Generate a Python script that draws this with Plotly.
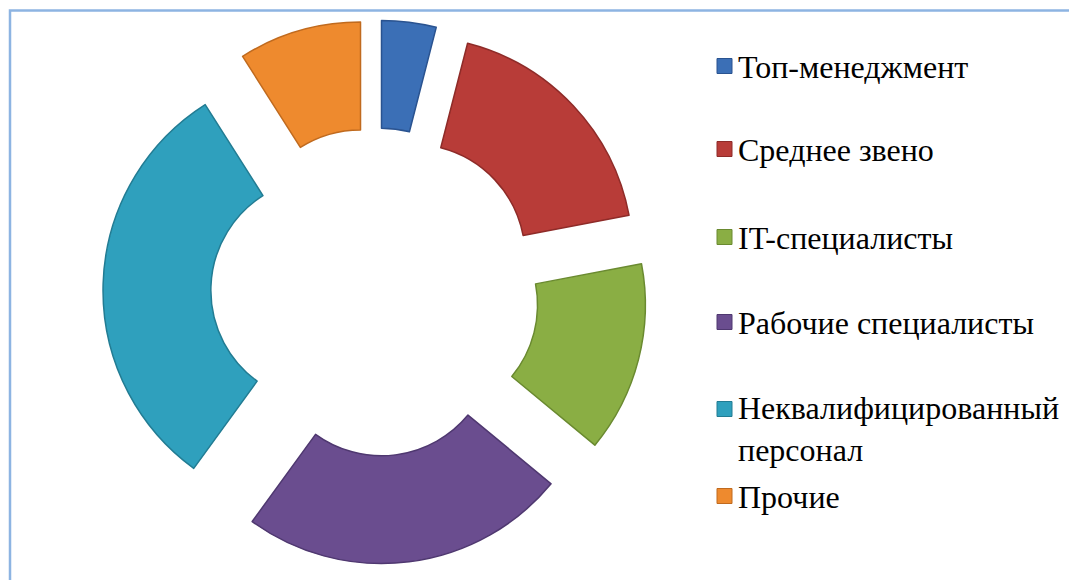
import plotly.graph_objects as go

labels = ["Топ-менеджмент", "Среднее звено", "IT-специалисты",
          "Рабочие специалисты", "Неквалифицированный персонал", "Прочие"]
legend_text = ["Топ-менеджмент", "Среднее звено", "IT-специалисты",
               "Рабочие специалисты", "Неквалифицированный<br>персонал", "Прочие"]
values = [4, 18, 14, 24, 31, 9]
colors = ["#3B6FB6", "#B83C38", "#8AAE44", "#6A4D8F", "#2FA0BD", "#EE8A2E"]
edge_colors = ["#2A5390", "#8E2B28", "#6A8A30", "#4F3870", "#227C93", "#C06A1E"]

W, H = 1077, 580
OFF = 8  # page body margin


def px(x):
    return (x - OFF) / W


def py(y):
    return 1 - (y - OFF) / H


fig = go.Figure(go.Pie(
    labels=labels,
    values=values,
    sort=False,
    direction="clockwise",
    rotation=0,
    hole=0.51,
    pull=[0.236] * len(values),
    marker=dict(colors=colors, line=dict(color=edge_colors, width=1.5)),
    textinfo="none",
    hoverinfo="label+percent",
    showlegend=False,
    domain=dict(x=[px(103), px(647)], y=[py(564), py(20)]),
))

# Legend drawn as text + square markers
centers = [66, 149, 237, 322, 428, 496]
shapes = []
annotations = []
for i, (txt, col, ec) in enumerate(zip(legend_text, colors, edge_colors)):
    cy = centers[i] if i != 4 else 409
    shapes.append(dict(type="rect", xref="paper", yref="paper",
                       x0=px(717), x1=px(732),
                       y0=py(cy + 7.5), y1=py(cy - 7.5),
                       fillcolor=col, line=dict(color=ec, width=1)))
    annotations.append(dict(xref="paper", yref="paper", x=px(736),
                            y=py(centers[i] + 1), xanchor="left", yanchor="middle",
                            text=txt, showarrow=False, align="left",
                            font=dict(family="Liberation Serif", size=32, color="black")))

# chart frame
shapes.append(dict(type="rect", xref="paper", yref="paper",
                   x0=px(10), x1=1.05, y0=-0.05, y1=py(10.5),
                   line=dict(color="#8DB4E2", width=2.5), fillcolor="rgba(0,0,0,0)"))

fig.update_layout(
    width=W, height=H,
    margin=dict(l=0, r=0, t=0, b=0),
    paper_bgcolor="white",
    plot_bgcolor="white",
    font=dict(family="Liberation Serif"),
    shapes=shapes,
    annotations=annotations,
)

fig.write_html("out.html")
